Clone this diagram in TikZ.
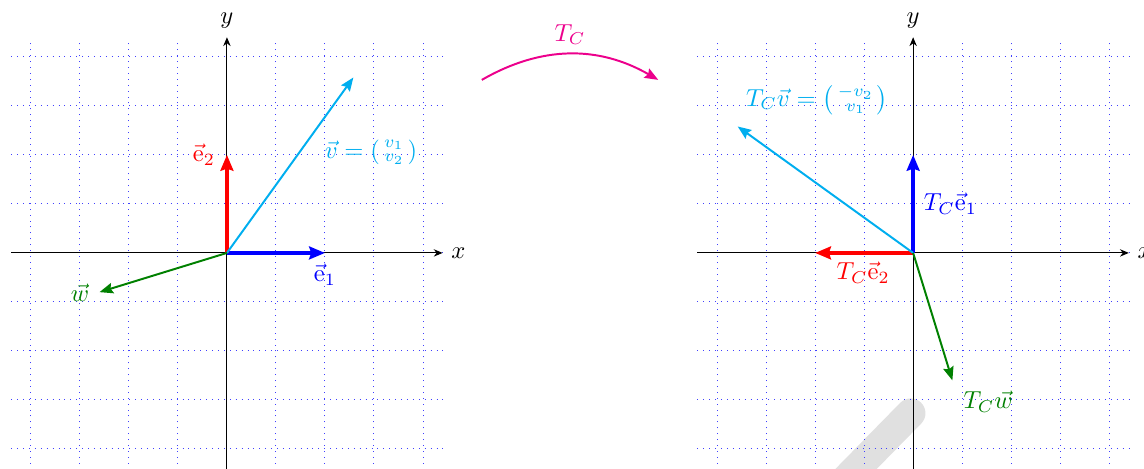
\documentclass[tikz,border=0pt]{standalone}
\usepackage{amsmath}
\usetikzlibrary{arrows.meta}
\definecolor{vcyan}{RGB}{0,174,239}
\definecolor{tmag}{RGB}{236,0,140}
\definecolor{wgreen}{RGB}{0,128,0}
\begin{document}
\begin{tikzpicture}[x=0.7cm,y=0.7cm,
  gridline/.style={blue!75, dotted, line width=0.4pt, step=0.7cm},
  axis/.style={black, line width=0.4pt, -{Stealth[length=3.6pt,width=3pt]}},
  basevec/.style={line width=1.6pt, -{Stealth[length=6.4pt,width=5.2pt,inset=0.8pt]}},
  thinvec/.style={line width=0.8pt, -{Stealth[length=5.5pt,width=4.3pt,inset=0.8pt]}},
  lbl/.style={inner sep=1pt}]

\useasboundingbox (-4.63,-4.39) rectangle (18.71,5.16);

% watermark fragment
\draw[line width=12pt, black!12, line cap=round] (13.95,-3.27) -- (12.45,-4.8);

% grids and axes
\foreach \ox/\nm in {0/L,14/R}{
  \draw[gridline] (\ox-4.4,-4.3) grid (\ox+4.4,4.35);
  \coordinate (O\nm) at (\ox,0);
  \coordinate (xs\nm) at (\ox-4.4,0);
  \coordinate (xe\nm) at (\ox+4.4,0);
  \coordinate (ys\nm) at (\ox,-4.4);
  \coordinate (ye\nm) at (\ox,4.4);
  \draw[axis] (xs\nm) -- (xe\nm);
  \draw[axis] (ys\nm) -- (ye\nm);
  \node[right] (xlab\nm) at (xe\nm) {$x$};
  \node[above] (ylab\nm) at (ye\nm) {$y$};
}

% left plot vectors
\coordinate (e1) at (2,0);
\coordinate (e2) at (0,2);
\coordinate (v) at (2.58,3.58);
\coordinate (w) at (-2.6,-0.8);
\draw[basevec, blue] (OL) -- (e1);
\draw[basevec, red] (OL) -- (e2);
\draw[thinvec, vcyan] (OL) -- (v);
\draw[thinvec, wgreen] (OL) -- (w);
\node[lbl, blue] (le1) at (2.0,-0.45) {$\vec{\mathrm{e}}_1$};
\node[lbl, red] (le2) at (-0.47,2.0) {$\vec{\mathrm{e}}_2$};
\node[lbl, vcyan] (lv) at (2.94,2.06) {$\vec{v}=\left(\begin{smallmatrix}v_1\\ v_2\end{smallmatrix}\right)$};
\node[lbl, wgreen] (lw) at (-3.0,-0.82) {$\vec{w}$};

% right plot vectors
\coordinate (Te1) at (14,2);
\coordinate (Te2) at (12,0);
\coordinate (Tv) at (10.42,2.58);
\coordinate (Tw) at (14.8,-2.6);
\draw[basevec, blue] (OR) -- (Te1);
\draw[basevec, red] (OR) -- (Te2);
\draw[thinvec, vcyan] (OR) -- (Tv);
\draw[thinvec, wgreen] (OR) -- (Tw);
\node[lbl, blue] (lTe1) at (14.76,1.0) {$T_C\vec{\mathrm{e}}_1$};
\node[lbl, red] (lTe2) at (12.98,-0.41) {$T_C\vec{\mathrm{e}}_2$};
\node[lbl, vcyan] (lTv) at (12.04,3.12) {$T_C\vec{v}=\left(\begin{smallmatrix}-v_2\\ v_1\end{smallmatrix}\right)$};
\node[lbl, wgreen] (lTw) at (15.53,-3.04) {$T_C\vec{w}$};

% map arrow
\coordinate (a1) at (5.2,3.53);
\coordinate (a2) at (8.8,3.53);
\draw[tmag, line width=0.8pt, -{Stealth[length=5.5pt,width=4.3pt,inset=0.8pt]}] (a1) to[bend left=30] node[above, text=tmag] (tc) {$T_C$} (a2);
\end{tikzpicture}
\end{document}
